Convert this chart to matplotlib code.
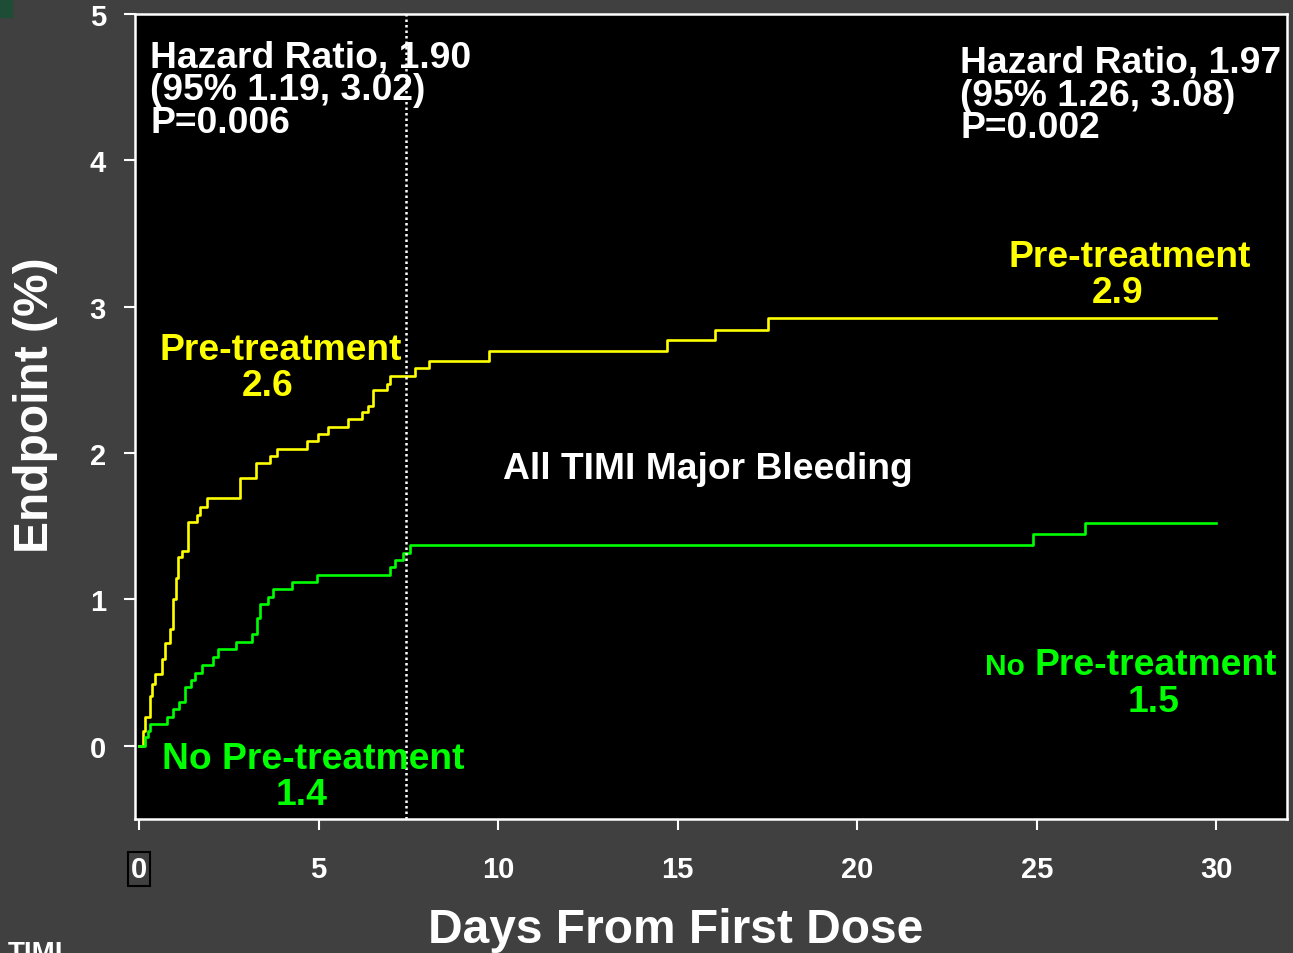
"""All TIMI Major Bleeding: pre-treatment vs no pre-treatment, Kaplan-Meier style step curves."""

import matplotlib

matplotlib.use("Agg")
import matplotlib.pyplot as plt
from matplotlib.patches import Rectangle

plt.rcParams["font.family"] = ["Liberation Sans", "DejaVu Sans"]
plt.rcParams["font.weight"] = "bold"

# Step curves (day, cumulative endpoint %)
pre_days = [0, 0.12, 0.17, 0.31, 0.35, 0.45, 0.63, 0.72, 0.86, 0.96, 1.03,
            1.10, 1.19, 1.37, 1.61, 1.70, 1.89, 2.81, 3.25, 3.65, 3.84,
            4.67, 4.99, 5.27, 5.83, 6.22, 6.39, 6.53, 6.90, 6.99, 7.69,
            8.09, 9.76, 14.70, 16.04, 17.53, 30.0]
pre_vals = [0, 0.10, 0.20, 0.34, 0.42, 0.49, 0.59, 0.70, 0.80, 1.00, 1.15,
            1.29, 1.33, 1.53, 1.58, 1.63, 1.69, 1.83, 1.93, 1.98, 2.03,
            2.08, 2.13, 2.18, 2.23, 2.28, 2.32, 2.43, 2.47, 2.53, 2.58,
            2.63, 2.70, 2.77, 2.84, 2.92, 2.92]

nopre_days = [0, 0.17, 0.26, 0.32, 0.77, 0.96, 1.12, 1.28, 1.44, 1.56, 1.75,
              2.06, 2.19, 2.71, 3.15, 3.28, 3.37, 3.60, 3.72, 4.25, 4.97,
              6.98, 7.14, 7.35, 7.54, 24.90, 26.35, 30.0]
nopre_vals = [0, 0.06, 0.10, 0.15, 0.20, 0.25, 0.30, 0.40, 0.45, 0.50, 0.555,
              0.606, 0.66, 0.71, 0.765, 0.87, 0.97, 1.02, 1.07, 1.12, 1.17,
              1.22, 1.27, 1.32, 1.37, 1.445, 1.525, 1.525]

x_ticks = [0, 5, 10, 15, 20, 25, 30]
y_ticks = [0, 1, 2, 3, 4, 5]
split_day = 7.44

hr_early = "Hazard Ratio, 1.90\n(95% 1.19, 3.02)\nP=0.006"
hr_late = "Hazard Ratio, 1.97\n(95% 1.26, 3.08)\nP=0.002"
pre_early, pre_late = "2.6", "2.9"
nopre_early, nopre_late = "1.4", "1.5"

BG = "#404040"
YELLOW = "#ffff00"
GREEN = "#00ff00"

fig = plt.figure(figsize=(12.93, 9.54), dpi=100, facecolor=BG)
ax = fig.add_axes([135 / 1293, 1 - 820 / 954, (1287 - 135) / 1293, (820 - 15) / 954])
ax.set_facecolor("black")

ax.plot(pre_days, pre_vals, drawstyle="steps-post", color=YELLOW, lw=1.9)
ax.plot(nopre_days, nopre_vals, drawstyle="steps-post", color=GREEN, lw=1.9)
ax.axvline(split_day, color="white", lw=1.8, ls=(0, (1, 1.2)))

ax.set_xlim(-0.11, 31.97)
ax.set_ylim(-0.5, 5.0)
ax.set_xticks(x_ticks)
ax.set_yticks(y_ticks)
for sp in ax.spines.values():
    sp.set_color("white")
    sp.set_linewidth(1.8)
ax.tick_params(colors="white", width=1.5, length=8, labelsize=21, direction="out")
ax.tick_params(axis="x", pad=18)
ax.tick_params(axis="y", pad=13)
for lab in ax.get_xticklabels() + ax.get_yticklabels():
    lab.set_fontweight("bold")
ax.get_xticklabels()[0].set_bbox(dict(facecolor="none", edgecolor="black", lw=1.5, pad=2))

ax.set_xlabel("Days From First Dose", color="white", fontsize=34.5, fontweight="bold")
ax.set_ylabel("Endpoint (%)", color="white", fontsize=34.5, fontweight="bold")
ax.xaxis.set_label_coords(0.469, -0.109)
ax.yaxis.set_label_coords(-0.067, 0.515)

txt = dict(fontsize=26.8, fontweight="bold")
ax.text(0.31, 4.826, hr_early, color="white", va="top", ha="left", linespacing=0.92, **txt)
ax.text(22.87, 4.79, hr_late, color="white", va="top", ha="left", linespacing=0.92, **txt)

ax.text(27.6, 3.34, "Pre-treatment", color=YELLOW, ha="center", va="center", **txt)
ax.text(27.24, 3.10, pre_late, color=YELLOW, ha="center", va="center", **txt)
ax.text(3.96, 2.705, "Pre-treatment", color=YELLOW, ha="center", va="center", **txt)
ax.text(3.57, 2.46, pre_early, color=YELLOW, ha="center", va="center", **txt)

ax.text(15.85, 1.892, "All TIMI Major Bleeding", color="white", ha="center", va="center", **txt)

ax.text(4.85, -0.089, "No Pre-treatment", color=GREEN, ha="center", va="center", **txt)
ax.text(4.54, -0.335, nopre_early, color=GREEN, ha="center", va="center", **txt)
ax.text(31.70, 0.49, "Pre-treatment", color=GREEN, ha="right", va="baseline", **txt)
ax.text(24.68, 0.49, "No", color=GREEN, ha="right", va="baseline", fontsize=21.5,
        fontweight="bold")
ax.text(28.25, 0.30, nopre_late, color=GREEN, ha="center", va="center", **txt)

# slide remnants at the corners
fig.patches.append(Rectangle((0, 1 - 18 / 954), 12 / 1293, 18 / 954,
                             transform=fig.transFigure, color="#1d4d35"))
fig.text(0.006, 0.014, "TIMI", color="white", fontsize=20, fontweight="bold", va="top")

fig.savefig("out.png", dpi=100, facecolor=BG)
